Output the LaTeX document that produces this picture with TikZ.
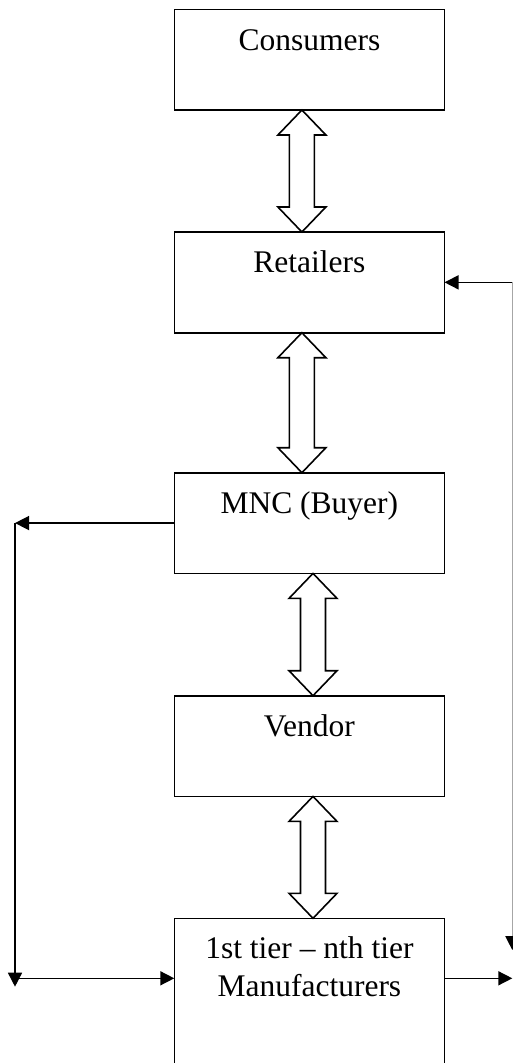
\documentclass[tikz,border=0pt]{standalone}
\usepackage{fontspec}
\setmainfont{Liberation Serif}
\usetikzlibrary{arrows.meta,calc}
\newcommand\dblarr[3]{%
  \draw[dbl] let \p1=($(#1)+(#3,0)$), \p2=($(#2)+(#3,0)$) in
  (\x1,\y1) -- (\x1+24pt,\y1-25pt) -- (\x1+12.5pt,\y1-25pt) -- (\x1+12.5pt,\y2+25pt)
  -- (\x1+24pt,\y2+25pt) -- (\x1,\y2) -- (\x1-24pt,\y2+25pt) -- (\x1-12.5pt,\y2+25pt)
  -- (\x1-12.5pt,\y1-25pt) -- (\x1-24pt,\y1-25pt) -- cycle;}
\begin{document}
\begin{tikzpicture}[x=1pt,y=-1pt,
  box/.style={draw,line width=1.6pt,minimum width=270.2pt,minimum height=100.7pt,inner sep=0pt,outer sep=0pt,anchor=north west},
  lbl/.style={font=\fontsize{31.5}{37.7}\selectfont,anchor=base,inner sep=0pt,align=center},
  link/.style={line width=1.5pt,-{Triangle[length=14pt,width=14pt]}},
  edgelink/.style={line width=1.2pt,draw=black!35,-{Triangle[length=14pt,width=14pt,color=black]}},
  dbl/.style={draw,line width=1.6pt,fill=white,line join=miter}]
\useasboundingbox (0,0) rectangle (513,1063);
% boxes
\node[box] (cons) at (174.3,9.3) {};
\node[box] (ret) at (174.3,232) {};
\node[box] (mnc) at (174.3,472.7) {};
\node[box] (vend) at (174.3,695.7) {};
\node[box,minimum height=160pt] (manu) at (174.3,918.3) {};
% labels
\node[lbl] (consT) at ($(cons.north)+(0,40.7)$) {Consumers};
\node[lbl] (retT) at ($(ret.north)+(0,40.4)$) {Retailers};
\node[lbl] (mncT) at ($(mnc.north)+(0,40.6)$) {MNC (Buyer)};
\node[lbl] (vendT) at ($(vend.north)+(0,40.5)$) {Vendor};
\node[lbl] (manuT) at ($(manu.north)+(0,77.7)$) {1st tier -- nth tier\\Manufacturers};
% double arrows
\dblarr{cons.south}{ret.north}{-7.5}
\dblarr{ret.south}{mnc.north}{-7.5}
\dblarr{mnc.south}{vend.north}{3.6}
\dblarr{vend.south}{manu.north}{3.6}
% side connectors
\coordinate (lx) at (15,0);
\coordinate (rx) at (512.3,0);
\coordinate (manuin) at (174.3,978.3);
\coordinate (manuout) at (444.5,978.3);
\coordinate (lbot) at (15,986.7);
\coordinate (rbot) at (512.3,950);
\draw[link] (mnc.west) -- (mnc.west -| lx) coordinate (ltop);
\draw[link] (ltop) -- (lbot);
\draw[link] (lx |- manuin) -- (manuin);
\draw[link] (manuout) -- (manuout -| rx);
\draw[link] (rx |- ret.east) coordinate (rtop) -- (ret.east);
\draw[edgelink] (rtop) -- (rbot);
\end{tikzpicture}
\end{document}
